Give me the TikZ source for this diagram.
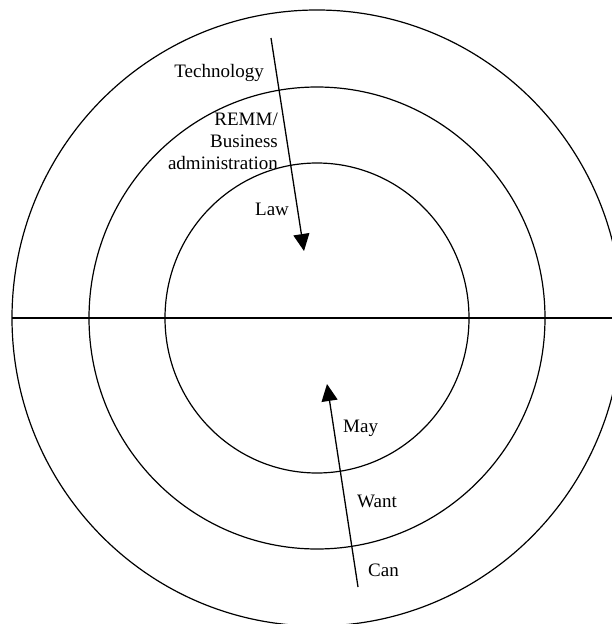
\documentclass[tikz,border=0pt]{standalone}
\usepackage{fontspec}
\setmainfont{Liberation Serif}
\usetikzlibrary{arrows.meta}

\begin{document}
\begin{tikzpicture}[x=1pt,y=-1pt]
    \tikzset{ring/.style = {line width=1.2pt}}
    \tikzset{flow/.style = {line width=1.3pt,-{Triangle[width=16pt,length=17pt]}}}
    \tikzset{label/.style = {inner sep=0pt,font=\fontsize{19}{22}\selectfont}}
    \useasboundingbox (0,0) rectangle (612,624);
    \begin{scope}
    \clip (0,0) rectangle (612,624);
    \coordinate (c) at (317,318);
    \draw[ring] (c) circle [x radius=152, y radius=155];
    \draw[ring] (c) circle [x radius=228, y radius=231];
    \draw[ring] (c) circle [x radius=305, y radius=308];
    \coordinate (west) at (12,318); \coordinate (east) at (622,318);
    \draw[ring] (west) -- (east);
    \end{scope}
    \coordinate (topstart) at (271,38); \coordinate (toptip) at (304,251);
    \coordinate (botstart) at (358,587); \coordinate (bottip) at (327,384);
    \draw[flow] (topstart) -- (toptip); \draw[flow] (botstart) -- (bottip);
    \node[label,anchor=base east] (tech) at (264,77) {Technology};
    \node[label,anchor=east,align=right] (remm) at (278,141.5)
    {REMM/\\Business\\administration};
    \node[label,anchor=base west] (law) at (255,215) {Law};
    \node[label,anchor=base west] (may) at (343,432) {May};
    \node[label,anchor=base west] (want) at (357,507) {Want};
    \node[label,anchor=base west] (can) at (368,576) {Can};
  \end{tikzpicture}
\end{document}
